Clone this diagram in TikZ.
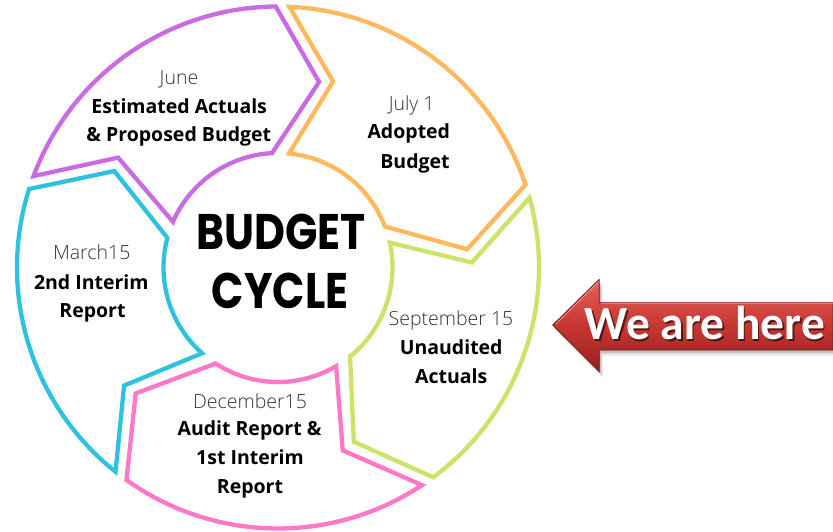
\documentclass[tikz,border=0pt]{standalone}
\usepackage{fontspec}
\setmainfont{Open Sans}
\newfontfamily\lightfont{Open Sans Light}
\newfontfamily\titlefont{Poppins Bold}[FakeStretch=0.85]
\newfontfamily\arrowfont{Carlito}
\definecolor{cpurple}{HTML}{C96BE3}
\definecolor{corange}{HTML}{FFB95C}
\definecolor{cgreen}{HTML}{CCE36A}
\definecolor{cpink}{HTML}{FF78C8}
\definecolor{cblue}{HTML}{2DC3E0}
\definecolor{arrowtop}{RGB}{226,98,92}
\definecolor{arrowmid}{RGB}{200,55,50}
\definecolor{arrowbot}{RGB}{150,30,30}
\tikzset{
  segline/.style={line width=4.3pt, line join=miter},
  litelbl/.style={font=\lightfont\fontsize{19.5}{23}\selectfont, text=black!80, anchor=base, inner sep=0pt},
  boldlbl/.style={font=\bfseries\fontsize{19.5}{23}\selectfont, text=black, anchor=base, inner sep=0pt},
  titlelbl/.style={font=\titlefont\fontsize{50}{53}\selectfont, text=black, anchor=base, inner sep=0pt},
  herelbl/.style={font=\arrowfont\bfseries\fontsize{47.5}{50}\selectfont, anchor=base, inner sep=0pt},
}
% #1 tail angle, #2 colour
\newcommand\cycseg[2]{%
  \pgfmathsetmacro\Ta{#1}%
  \pgfmathsetmacro\Ha{#1-69}%
  \pgfmathsetmacro\Hi{\Ha+2.5}%
  \pgfmathsetmacro\Ht{\Ha-13}%
  \pgfmathsetmacro\Ti{\Ta-3}%
  \pgfmathsetmacro\Tn{\Ta-14}%
  \draw[segline, draw=#2, shift={(278,264.5)}]
    (\Ta:261pt) arc[start angle=\Ta, end angle=\Ha, radius=261pt]
    -- (\Ht:190pt) -- (\Hi:114.5pt)
    arc[start angle=\Hi, end angle=\Ti, radius=114.5pt]
    -- (\Tn:194pt) -- cycle;
}
\begin{document}
\begin{tikzpicture}[x=1pt,y=1pt]
\useasboundingbox (0,0) rectangle (833,532);
\fill[white] (0,0) rectangle (833,532);

\cycseg{159.5}{cpurple}
\cycseg{87.5}{corange}
\cycseg{15.5}{cgreen}
\cycseg{-56.5}{cpink}
\cycseg{-128.5}{cblue}

% centre title
\node[titlelbl] (t1) at (281,282) {BUDGET};
\node[titlelbl] (t2) at (280,223.7) {CYCLE};

% purple
\node[litelbl] (p1) at (179,447) {June};
\node[boldlbl] (p2) at (179.2,418.7) {Estimated Actuals};
\node[boldlbl] (p3) at (178.8,390.3) {\& Proposed Budget};
% orange
\node[litelbl] (o1) at (411.7,421) {July 1};
\node[boldlbl] (o2) at (408.8,393) {Adopted};
\node[boldlbl] (o3) at (415,363.7) {Budget};
% blue
\node[litelbl] (b1) at (91.7,272) {March15};
\node[boldlbl] (b2) at (91.3,242) {2nd Interim};
\node[boldlbl] (b3) at (92.5,214.3) {Report};
% green
\node[litelbl] (g1) at (451,206) {September 15};
\node[boldlbl] (g2) at (451.2,177) {Unaudited};
\node[boldlbl] (g3) at (451.2,148.5) {Actuals};
% pink
\node[litelbl] (k1) at (250,123.7) {December15};
\node[boldlbl] (k2) at (249.5,96) {Audit Report \&};
\node[boldlbl] (k3) at (250,67) {1st Interim};
\node[boldlbl] (k4) at (250,38.2) {Report};

% We are here arrow
\foreach \o/\op in {6/0.06,4.5/0.08,3/0.1,1.5/0.12}{
  \fill[black, opacity=\op, shift={(\o*0.6,-\o)}]
    (552.7,207) -- (599.3,252.7) -- (599.3,229.3) -- (833,229.3)
    -- (833,182) -- (599.3,182) -- (599.3,160.3) -- cycle;
}
\path[top color=arrowtop, bottom color=arrowbot, middle color=arrowmid, draw=arrowbot!80!black, line width=0.8pt, line join=miter]
  (552.7,207) -- (599.3,252.7) -- (599.3,229.3) -- (833,229.3)
  -- (833,182) -- (599.3,182) -- (599.3,160.3) -- cycle;
\draw[white, opacity=0.35, line width=1pt] (556,208) -- (599.3,251);
\draw[white, opacity=0.35, line width=1pt] (600.5,228.3) -- (833,228.3);
\node[herelbl, text=black, opacity=0.55] (w0) at (706.5,190.5) {We are here};
\node[herelbl, text=white] (w1) at (705,192) {We are here};
\end{tikzpicture}
\end{document}
